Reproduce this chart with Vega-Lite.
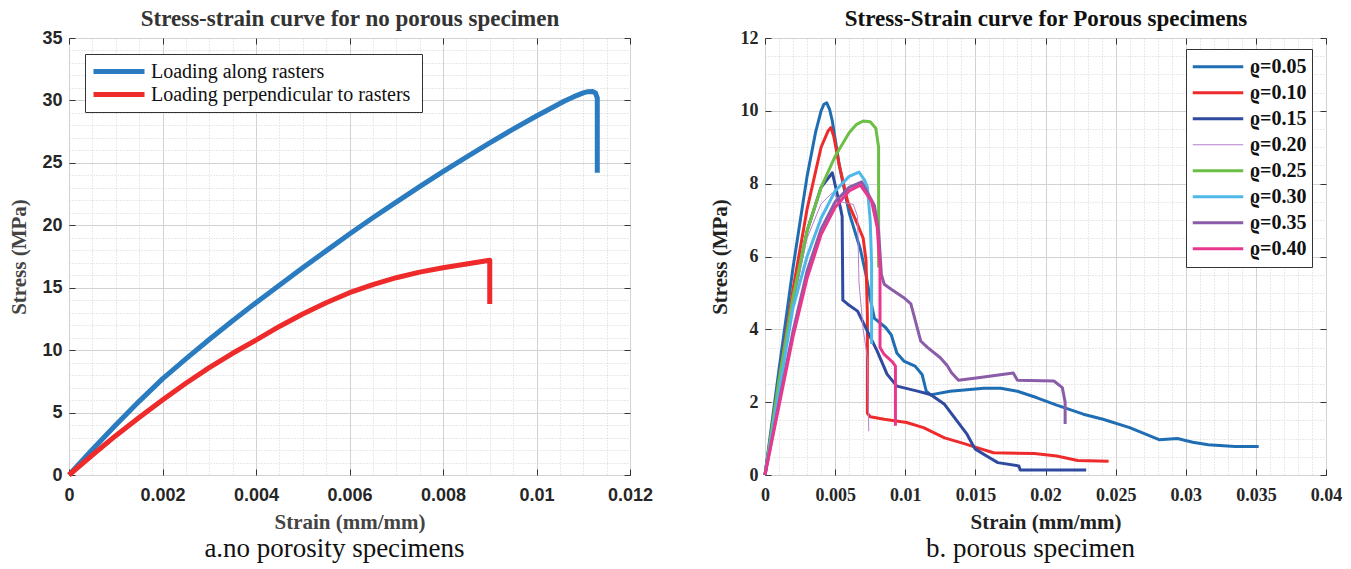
{
  "$schema": "https://vega.github.io/schema/vega-lite/v6.json",
  "padding": {"left": 8, "top": 7, "right": 0, "bottom": 0},
  "background": "white",
  "bounds": "flush",
  "spacing": 135,
  "resolve": {"scale": {"color": "independent", "strokeWidth": "independent"}, "legend": {"color": "independent", "strokeWidth": "independent"}},
  "config": {
    "view": {"stroke": "#333333", "strokeWidth": 1},
    "axis": {"labelFlush": false, "labelOverlap": false, "labelBound": false, "domain": false}
  },
  "datasets": {
    "left": [
      {"s": "Loading along rasters", "i": 1, "x": 0, "y": 0},
      {"s": "Loading along rasters", "i": 2, "x": 0.0005, "y": 2.05},
      {"s": "Loading along rasters", "i": 3, "x": 0.001, "y": 4.0},
      {"s": "Loading along rasters", "i": 4, "x": 0.0015, "y": 5.9},
      {"s": "Loading along rasters", "i": 5, "x": 0.002, "y": 7.7},
      {"s": "Loading along rasters", "i": 6, "x": 0.0025, "y": 9.3},
      {"s": "Loading along rasters", "i": 7, "x": 0.003, "y": 10.85},
      {"s": "Loading along rasters", "i": 8, "x": 0.0035, "y": 12.35},
      {"s": "Loading along rasters", "i": 9, "x": 0.004, "y": 13.8},
      {"s": "Loading along rasters", "i": 10, "x": 0.0045, "y": 15.2},
      {"s": "Loading along rasters", "i": 11, "x": 0.005, "y": 16.6},
      {"s": "Loading along rasters", "i": 12, "x": 0.0055, "y": 17.95},
      {"s": "Loading along rasters", "i": 13, "x": 0.006, "y": 19.3},
      {"s": "Loading along rasters", "i": 14, "x": 0.0065, "y": 20.6},
      {"s": "Loading along rasters", "i": 15, "x": 0.007, "y": 21.85},
      {"s": "Loading along rasters", "i": 16, "x": 0.0075, "y": 23.1},
      {"s": "Loading along rasters", "i": 17, "x": 0.008, "y": 24.3},
      {"s": "Loading along rasters", "i": 18, "x": 0.0085, "y": 25.45},
      {"s": "Loading along rasters", "i": 19, "x": 0.009, "y": 26.6},
      {"s": "Loading along rasters", "i": 20, "x": 0.0095, "y": 27.7},
      {"s": "Loading along rasters", "i": 21, "x": 0.01, "y": 28.75},
      {"s": "Loading along rasters", "i": 22, "x": 0.0103, "y": 29.35},
      {"s": "Loading along rasters", "i": 23, "x": 0.0106, "y": 29.95},
      {"s": "Loading along rasters", "i": 24, "x": 0.0108, "y": 30.3},
      {"s": "Loading along rasters", "i": 25, "x": 0.011, "y": 30.6},
      {"s": "Loading along rasters", "i": 26, "x": 0.0111, "y": 30.7},
      {"s": "Loading along rasters", "i": 27, "x": 0.0112, "y": 30.72},
      {"s": "Loading along rasters", "i": 28, "x": 0.01126, "y": 30.6},
      {"s": "Loading along rasters", "i": 29, "x": 0.0113, "y": 30.2},
      {"s": "Loading along rasters", "i": 30, "x": 0.0113, "y": 24.2},
      {"s": "Loading perpendicular to  rasters", "i": 1, "x": 0, "y": 0},
      {"s": "Loading perpendicular to  rasters", "i": 2, "x": 0.0005, "y": 1.6},
      {"s": "Loading perpendicular to  rasters", "i": 3, "x": 0.001, "y": 3.15},
      {"s": "Loading perpendicular to  rasters", "i": 4, "x": 0.0015, "y": 4.6},
      {"s": "Loading perpendicular to  rasters", "i": 5, "x": 0.002, "y": 6.0},
      {"s": "Loading perpendicular to  rasters", "i": 6, "x": 0.0025, "y": 7.35},
      {"s": "Loading perpendicular to  rasters", "i": 7, "x": 0.003, "y": 8.6},
      {"s": "Loading perpendicular to  rasters", "i": 8, "x": 0.0035, "y": 9.75},
      {"s": "Loading perpendicular to  rasters", "i": 9, "x": 0.004, "y": 10.8},
      {"s": "Loading perpendicular to  rasters", "i": 10, "x": 0.0045, "y": 11.9},
      {"s": "Loading perpendicular to  rasters", "i": 11, "x": 0.005, "y": 12.9},
      {"s": "Loading perpendicular to  rasters", "i": 12, "x": 0.0055, "y": 13.8},
      {"s": "Loading perpendicular to  rasters", "i": 13, "x": 0.006, "y": 14.6},
      {"s": "Loading perpendicular to  rasters", "i": 14, "x": 0.0065, "y": 15.25},
      {"s": "Loading perpendicular to  rasters", "i": 15, "x": 0.007, "y": 15.8},
      {"s": "Loading perpendicular to  rasters", "i": 16, "x": 0.0075, "y": 16.25},
      {"s": "Loading perpendicular to  rasters", "i": 17, "x": 0.008, "y": 16.6},
      {"s": "Loading perpendicular to  rasters", "i": 18, "x": 0.0085, "y": 16.9},
      {"s": "Loading perpendicular to  rasters", "i": 19, "x": 0.009, "y": 17.2},
      {"s": "Loading perpendicular to  rasters", "i": 20, "x": 0.009, "y": 13.7}
    ],
    "right": [
      {"r": "ϱ=0.05", "i": 1, "x": 0, "y": 0},
      {"r": "ϱ=0.05", "i": 2, "x": 0.001, "y": 2.9},
      {"r": "ϱ=0.05", "i": 3, "x": 0.002, "y": 5.7},
      {"r": "ϱ=0.05", "i": 4, "x": 0.003, "y": 8.2},
      {"r": "ϱ=0.05", "i": 5, "x": 0.0036, "y": 9.4},
      {"r": "ϱ=0.05", "i": 6, "x": 0.004, "y": 10.0},
      {"r": "ϱ=0.05", "i": 7, "x": 0.0042, "y": 10.18},
      {"r": "ϱ=0.05", "i": 8, "x": 0.0044, "y": 10.22},
      {"r": "ϱ=0.05", "i": 9, "x": 0.0046, "y": 10.05},
      {"r": "ϱ=0.05", "i": 10, "x": 0.0048, "y": 9.72},
      {"r": "ϱ=0.05", "i": 11, "x": 0.0053, "y": 8.5},
      {"r": "ϱ=0.05", "i": 12, "x": 0.006, "y": 7.2},
      {"r": "ϱ=0.05", "i": 13, "x": 0.0068, "y": 6.2},
      {"r": "ϱ=0.05", "i": 14, "x": 0.0072, "y": 5.5},
      {"r": "ϱ=0.05", "i": 15, "x": 0.0075, "y": 4.85},
      {"r": "ϱ=0.05", "i": 16, "x": 0.0078, "y": 4.3},
      {"r": "ϱ=0.05", "i": 17, "x": 0.0082, "y": 4.18},
      {"r": "ϱ=0.05", "i": 18, "x": 0.0086, "y": 4.05},
      {"r": "ϱ=0.05", "i": 19, "x": 0.009, "y": 3.85},
      {"r": "ϱ=0.05", "i": 20, "x": 0.0094, "y": 3.35},
      {"r": "ϱ=0.05", "i": 21, "x": 0.0099, "y": 3.13},
      {"r": "ϱ=0.05", "i": 22, "x": 0.0107, "y": 2.99},
      {"r": "ϱ=0.05", "i": 23, "x": 0.0112, "y": 2.76},
      {"r": "ϱ=0.05", "i": 24, "x": 0.0115, "y": 2.3},
      {"r": "ϱ=0.05", "i": 25, "x": 0.0118, "y": 2.2},
      {"r": "ϱ=0.05", "i": 26, "x": 0.0132, "y": 2.3},
      {"r": "ϱ=0.05", "i": 27, "x": 0.0156, "y": 2.38},
      {"r": "ϱ=0.05", "i": 28, "x": 0.0168, "y": 2.38},
      {"r": "ϱ=0.05", "i": 29, "x": 0.018, "y": 2.3},
      {"r": "ϱ=0.05", "i": 30, "x": 0.0194, "y": 2.12},
      {"r": "ϱ=0.05", "i": 31, "x": 0.0208, "y": 1.92},
      {"r": "ϱ=0.05", "i": 32, "x": 0.0227, "y": 1.67},
      {"r": "ϱ=0.05", "i": 33, "x": 0.0241, "y": 1.53},
      {"r": "ϱ=0.05", "i": 34, "x": 0.026, "y": 1.3},
      {"r": "ϱ=0.05", "i": 35, "x": 0.0267, "y": 1.19},
      {"r": "ϱ=0.05", "i": 36, "x": 0.0281, "y": 0.97},
      {"r": "ϱ=0.05", "i": 37, "x": 0.0294, "y": 1.0},
      {"r": "ϱ=0.05", "i": 38, "x": 0.0305, "y": 0.9},
      {"r": "ϱ=0.05", "i": 39, "x": 0.0316, "y": 0.83},
      {"r": "ϱ=0.05", "i": 40, "x": 0.0335, "y": 0.78},
      {"r": "ϱ=0.05", "i": 41, "x": 0.0352, "y": 0.78},
      {"r": "ϱ=0.10", "i": 1, "x": 0, "y": 0},
      {"r": "ϱ=0.10", "i": 2, "x": 0.001, "y": 2.6},
      {"r": "ϱ=0.10", "i": 3, "x": 0.002, "y": 5.1},
      {"r": "ϱ=0.10", "i": 4, "x": 0.003, "y": 7.3},
      {"r": "ϱ=0.10", "i": 5, "x": 0.004, "y": 9.0},
      {"r": "ϱ=0.10", "i": 6, "x": 0.0045, "y": 9.45},
      {"r": "ϱ=0.10", "i": 7, "x": 0.0047, "y": 9.54},
      {"r": "ϱ=0.10", "i": 8, "x": 0.0049, "y": 9.3},
      {"r": "ϱ=0.10", "i": 9, "x": 0.0053, "y": 8.5},
      {"r": "ϱ=0.10", "i": 10, "x": 0.0059, "y": 7.5},
      {"r": "ϱ=0.10", "i": 11, "x": 0.0066, "y": 6.88},
      {"r": "ϱ=0.10", "i": 12, "x": 0.007, "y": 6.5},
      {"r": "ϱ=0.10", "i": 13, "x": 0.0072, "y": 5.9},
      {"r": "ϱ=0.10", "i": 14, "x": 0.0073, "y": 4.4},
      {"r": "ϱ=0.10", "i": 15, "x": 0.0073, "y": 1.7},
      {"r": "ϱ=0.10", "i": 16, "x": 0.0075, "y": 1.6},
      {"r": "ϱ=0.10", "i": 17, "x": 0.0085, "y": 1.53},
      {"r": "ϱ=0.10", "i": 18, "x": 0.0101, "y": 1.44},
      {"r": "ϱ=0.10", "i": 19, "x": 0.0113, "y": 1.3},
      {"r": "ϱ=0.10", "i": 20, "x": 0.0128, "y": 1.02},
      {"r": "ϱ=0.10", "i": 21, "x": 0.0142, "y": 0.86},
      {"r": "ϱ=0.10", "i": 22, "x": 0.0151, "y": 0.75},
      {"r": "ϱ=0.10", "i": 23, "x": 0.0163, "y": 0.61},
      {"r": "ϱ=0.10", "i": 24, "x": 0.0192, "y": 0.59},
      {"r": "ϱ=0.10", "i": 25, "x": 0.0208, "y": 0.52},
      {"r": "ϱ=0.10", "i": 26, "x": 0.0223, "y": 0.4},
      {"r": "ϱ=0.10", "i": 27, "x": 0.0245, "y": 0.38},
      {"r": "ϱ=0.15", "i": 1, "x": 0, "y": 0},
      {"r": "ϱ=0.15", "i": 2, "x": 0.001, "y": 2.5},
      {"r": "ϱ=0.15", "i": 3, "x": 0.002, "y": 4.8},
      {"r": "ϱ=0.15", "i": 4, "x": 0.003, "y": 6.7},
      {"r": "ϱ=0.15", "i": 5, "x": 0.004, "y": 7.9},
      {"r": "ϱ=0.15", "i": 6, "x": 0.0048, "y": 8.3},
      {"r": "ϱ=0.15", "i": 7, "x": 0.0054, "y": 7.3},
      {"r": "ϱ=0.15", "i": 8, "x": 0.0055, "y": 7.1},
      {"r": "ϱ=0.15", "i": 9, "x": 0.00555, "y": 4.8},
      {"r": "ϱ=0.15", "i": 10, "x": 0.0059, "y": 4.69},
      {"r": "ϱ=0.15", "i": 11, "x": 0.0066, "y": 4.5},
      {"r": "ϱ=0.15", "i": 12, "x": 0.0073, "y": 3.95},
      {"r": "ϱ=0.15", "i": 13, "x": 0.008, "y": 3.4},
      {"r": "ϱ=0.15", "i": 14, "x": 0.0087, "y": 2.77},
      {"r": "ϱ=0.15", "i": 15, "x": 0.0094, "y": 2.44},
      {"r": "ϱ=0.15", "i": 16, "x": 0.0108, "y": 2.31},
      {"r": "ϱ=0.15", "i": 17, "x": 0.0118, "y": 2.21},
      {"r": "ϱ=0.15", "i": 18, "x": 0.0128, "y": 1.94},
      {"r": "ϱ=0.15", "i": 19, "x": 0.0137, "y": 1.48},
      {"r": "ϱ=0.15", "i": 20, "x": 0.0144, "y": 1.12},
      {"r": "ϱ=0.15", "i": 21, "x": 0.0148, "y": 0.84},
      {"r": "ϱ=0.15", "i": 22, "x": 0.015, "y": 0.71},
      {"r": "ϱ=0.15", "i": 23, "x": 0.0158, "y": 0.52},
      {"r": "ϱ=0.15", "i": 24, "x": 0.0166, "y": 0.34},
      {"r": "ϱ=0.15", "i": 25, "x": 0.0181, "y": 0.25},
      {"r": "ϱ=0.15", "i": 26, "x": 0.0182, "y": 0.14},
      {"r": "ϱ=0.15", "i": 27, "x": 0.0229, "y": 0.14},
      {"r": "ϱ=0.20", "i": 1, "x": 0, "y": 0},
      {"r": "ϱ=0.20", "i": 2, "x": 0.001, "y": 2.45},
      {"r": "ϱ=0.20", "i": 3, "x": 0.002, "y": 4.7},
      {"r": "ϱ=0.20", "i": 4, "x": 0.003, "y": 6.5},
      {"r": "ϱ=0.20", "i": 5, "x": 0.004, "y": 7.45},
      {"r": "ϱ=0.20", "i": 6, "x": 0.0048, "y": 7.75},
      {"r": "ϱ=0.20", "i": 7, "x": 0.0054, "y": 7.5},
      {"r": "ϱ=0.20", "i": 8, "x": 0.0063, "y": 7.43},
      {"r": "ϱ=0.20", "i": 9, "x": 0.0066, "y": 7.1},
      {"r": "ϱ=0.20", "i": 10, "x": 0.0067, "y": 5.3},
      {"r": "ϱ=0.20", "i": 11, "x": 0.007, "y": 4.0},
      {"r": "ϱ=0.20", "i": 12, "x": 0.0073, "y": 3.2},
      {"r": "ϱ=0.20", "i": 13, "x": 0.0074, "y": 1.2},
      {"r": "ϱ=0.25", "i": 1, "x": 0, "y": 0},
      {"r": "ϱ=0.25", "i": 2, "x": 0.001, "y": 2.6},
      {"r": "ϱ=0.25", "i": 3, "x": 0.002, "y": 4.9},
      {"r": "ϱ=0.25", "i": 4, "x": 0.003, "y": 6.7},
      {"r": "ϱ=0.25", "i": 5, "x": 0.004, "y": 7.9},
      {"r": "ϱ=0.25", "i": 6, "x": 0.005, "y": 8.75},
      {"r": "ϱ=0.25", "i": 7, "x": 0.006, "y": 9.4},
      {"r": "ϱ=0.25", "i": 8, "x": 0.0065, "y": 9.62},
      {"r": "ϱ=0.25", "i": 9, "x": 0.007, "y": 9.72},
      {"r": "ϱ=0.25", "i": 10, "x": 0.0075, "y": 9.7},
      {"r": "ϱ=0.25", "i": 11, "x": 0.0079, "y": 9.52},
      {"r": "ϱ=0.25", "i": 12, "x": 0.0081, "y": 9.0},
      {"r": "ϱ=0.25", "i": 13, "x": 0.0081, "y": 5.7},
      {"r": "ϱ=0.30", "i": 1, "x": 0, "y": 0},
      {"r": "ϱ=0.30", "i": 2, "x": 0.001, "y": 2.3},
      {"r": "ϱ=0.30", "i": 3, "x": 0.002, "y": 4.6},
      {"r": "ϱ=0.30", "i": 4, "x": 0.003, "y": 6.0},
      {"r": "ϱ=0.30", "i": 5, "x": 0.004, "y": 7.05},
      {"r": "ϱ=0.30", "i": 6, "x": 0.005, "y": 7.8},
      {"r": "ϱ=0.30", "i": 7, "x": 0.006, "y": 8.2},
      {"r": "ϱ=0.30", "i": 8, "x": 0.0067, "y": 8.32},
      {"r": "ϱ=0.30", "i": 9, "x": 0.0071, "y": 8.1},
      {"r": "ϱ=0.30", "i": 10, "x": 0.0073, "y": 7.9},
      {"r": "ϱ=0.30", "i": 11, "x": 0.0075, "y": 7.0},
      {"r": "ϱ=0.30", "i": 12, "x": 0.0076, "y": 5.8},
      {"r": "ϱ=0.30", "i": 13, "x": 0.0076, "y": 3.6},
      {"r": "ϱ=0.35", "i": 1, "x": 0, "y": 0},
      {"r": "ϱ=0.35", "i": 2, "x": 0.001, "y": 2.0},
      {"r": "ϱ=0.35", "i": 3, "x": 0.002, "y": 3.95},
      {"r": "ϱ=0.35", "i": 4, "x": 0.003, "y": 5.6},
      {"r": "ϱ=0.35", "i": 5, "x": 0.004, "y": 6.75},
      {"r": "ϱ=0.35", "i": 6, "x": 0.005, "y": 7.5},
      {"r": "ϱ=0.35", "i": 7, "x": 0.006, "y": 7.9},
      {"r": "ϱ=0.35", "i": 8, "x": 0.0069, "y": 8.05},
      {"r": "ϱ=0.35", "i": 9, "x": 0.0078, "y": 7.4},
      {"r": "ϱ=0.35", "i": 10, "x": 0.0081, "y": 6.7},
      {"r": "ϱ=0.35", "i": 11, "x": 0.0083, "y": 5.5},
      {"r": "ϱ=0.35", "i": 12, "x": 0.0085, "y": 5.24},
      {"r": "ϱ=0.35", "i": 13, "x": 0.009, "y": 5.1},
      {"r": "ϱ=0.35", "i": 14, "x": 0.0099, "y": 4.87},
      {"r": "ϱ=0.35", "i": 15, "x": 0.0104, "y": 4.7},
      {"r": "ϱ=0.35", "i": 16, "x": 0.0106, "y": 4.41},
      {"r": "ϱ=0.35", "i": 17, "x": 0.0111, "y": 3.68},
      {"r": "ϱ=0.35", "i": 18, "x": 0.0116, "y": 3.5},
      {"r": "ϱ=0.35", "i": 19, "x": 0.0125, "y": 3.22},
      {"r": "ϱ=0.35", "i": 20, "x": 0.013, "y": 3.0},
      {"r": "ϱ=0.35", "i": 21, "x": 0.0133, "y": 2.81},
      {"r": "ϱ=0.35", "i": 22, "x": 0.0138, "y": 2.6},
      {"r": "ϱ=0.35", "i": 23, "x": 0.0156, "y": 2.69},
      {"r": "ϱ=0.35", "i": 24, "x": 0.0177, "y": 2.8},
      {"r": "ϱ=0.35", "i": 25, "x": 0.018, "y": 2.6},
      {"r": "ϱ=0.35", "i": 26, "x": 0.0206, "y": 2.58},
      {"r": "ϱ=0.35", "i": 27, "x": 0.0212, "y": 2.4},
      {"r": "ϱ=0.35", "i": 28, "x": 0.0214, "y": 2.0},
      {"r": "ϱ=0.35", "i": 29, "x": 0.0214, "y": 1.4},
      {"r": "ϱ=0.40", "i": 1, "x": 0, "y": 0},
      {"r": "ϱ=0.40", "i": 2, "x": 0.001, "y": 1.9},
      {"r": "ϱ=0.40", "i": 3, "x": 0.002, "y": 3.8},
      {"r": "ϱ=0.40", "i": 4, "x": 0.003, "y": 5.4},
      {"r": "ϱ=0.40", "i": 5, "x": 0.004, "y": 6.6},
      {"r": "ϱ=0.40", "i": 6, "x": 0.005, "y": 7.35},
      {"r": "ϱ=0.40", "i": 7, "x": 0.006, "y": 7.8},
      {"r": "ϱ=0.40", "i": 8, "x": 0.0068, "y": 7.96},
      {"r": "ϱ=0.40", "i": 9, "x": 0.0076, "y": 7.52},
      {"r": "ϱ=0.40", "i": 10, "x": 0.008, "y": 6.8},
      {"r": "ϱ=0.40", "i": 11, "x": 0.0082, "y": 5.7},
      {"r": "ϱ=0.40", "i": 12, "x": 0.0082, "y": 3.5},
      {"r": "ϱ=0.40", "i": 13, "x": 0.0085, "y": 3.31},
      {"r": "ϱ=0.40", "i": 14, "x": 0.0091, "y": 3.1},
      {"r": "ϱ=0.40", "i": 15, "x": 0.0093, "y": 2.99},
      {"r": "ϱ=0.40", "i": 16, "x": 0.0093, "y": 1.35}
    ]
  },
  "hconcat": [
    {
      "width": 561,
      "height": 437,
      "data": {"name": "left"},
      "title": {"text": "a.no porosity specimens", "orient": "bottom", "font": "Liberation Serif", "fontSize": 27, "fontWeight": "normal", "color": "#111111", "offset": 4, "dx": -15},
      "layer": [
        {
          "mark": {"type": "line", "strokeWidth": 5, "strokeJoin": "round"},
          "encoding": {
            "x": {"field": "x", "type": "quantitative",
              "scale": {"domain": [0, 0.012], "nice": false, "zero": false},
              "axis": {"orient": "bottom", "values": [0,0.0005,0.001,0.0015,0.002,0.0025,0.003,0.0035,0.004,0.0045,0.005,0.0055,0.006,0.0065,0.007,0.0075,0.008,0.0085,0.009,0.0095,0.01,0.0105,0.011,0.0115,0.012],
                "format": "~g",
                "labelExpr": "abs(datum.value*500-round(datum.value*500))>0.01 ? '' : datum.label",
                "labelFont": "Liberation Sans", "labelFontWeight": "bold", "labelFontSize": 18, "labelColor": "#262626",
                "labelPadding": 17, "tickSize": -6, "tickColor": "#333333",
                "tickOpacity": {"condition": {"test": "abs(datum.value*500-round(datum.value*500))>0.01", "value": 0}, "value": 1},
                "grid": true, "gridColor": "#d2d2d2",
                "gridDash": {"condition": {"test": "abs(datum.value*500-round(datum.value*500))>0.01", "value": [1, 2]}, "value": []},
                "title": "Strain (mm/mm)", "titleFont": "Liberation Serif", "titleFontSize": 21, "titleFontWeight": "bold", "titleColor": "#444444", "titlePadding": 7}},
            "y": {"field": "y", "type": "quantitative",
              "scale": {"domain": [0, 35], "nice": false, "zero": false},
              "axis": {"orient": "left", "values": [0,1,2,3,4,5,6,7,8,9,10,11,12,13,14,15,16,17,18,19,20,21,22,23,24,25,26,27,28,29,30,31,32,33,34,35],
                "format": "~g",
                "labelExpr": "datum.value % 5 !== 0 ? '' : datum.label",
                "labelFont": "Liberation Sans", "labelFontWeight": "bold", "labelFontSize": 18, "labelColor": "#262626",
                "labelPadding": 13, "tickSize": -6, "tickColor": "#333333",
                "tickOpacity": {"condition": {"test": "datum.value % 5 !== 0", "value": 0}, "value": 1},
                "grid": true, "gridColor": "#d2d2d2",
                "gridDash": {"condition": {"test": "datum.value % 5 !== 0", "value": [1, 2]}, "value": []},
                "title": "Stress (MPa)", "titleFont": "Liberation Serif", "titleFontSize": 21, "titleFontWeight": "bold", "titleColor": "#444444", "titlePadding": 12}},
            "color": {"field": "s", "type": "nominal",
              "scale": {"domain": ["Loading along rasters", "Loading perpendicular to  rasters"], "range": ["#2a7bbf", "#ee2a2a"]},
              "legend": {"title": null, "orient": "none", "legendX": 16, "legendY": 16, "symbolType": "stroke", "symbolSize": 2600, "symbolStrokeWidth": 5,
                "labelFont": "Liberation Serif", "labelFontSize": 20, "labelColor": "#111111", "labelLimit": 400, "labelOffset": 4,
                "fillColor": "white", "strokeColor": "#333333", "padding": 6, "rowPadding": 0, "clipHeight": 23}},
            "order": {"field": "i", "type": "quantitative"}
          }
        },
        {
          "mark": {"type": "point", "opacity": 0},
          "encoding": {
            "x": {"field": "x", "type": "quantitative",
              "axis": {"orient": "top", "values": [0,0.002,0.004,0.006,0.008,0.01,0.012], "labels": false, "grid": false,
                "tickSize": -6, "tickColor": "#333333",
                "title": "Stress-strain curve for no porous specimen", "titleFont": "Liberation Serif", "titleFontSize": 23, "titleFontWeight": "bold", "titleColor": "#333333", "titlePadding": 7}},
            "y": {"field": "y", "type": "quantitative",
              "axis": {"orient": "right", "values": [0,5,10,15,20,25,30,35], "labels": false, "grid": false, "tickSize": -6, "tickColor": "#333333", "title": null}}
          }
        }
      ],
      "resolve": {"axis": {"x": "independent", "y": "independent"}}
    },
    {
      "width": 561,
      "height": 437,
      "data": {"name": "right"},
      "title": {"text": "b. porous specimen", "orient": "bottom", "font": "Liberation Serif", "fontSize": 27, "fontWeight": "normal", "color": "#111111", "offset": 4, "dx": -15},
      "layer": [
        {
          "mark": {"type": "line", "strokeJoin": "round"},
          "encoding": {
            "x": {"field": "x", "type": "quantitative",
              "scale": {"domain": [0, 0.04], "nice": false, "zero": false},
              "axis": {"orient": "bottom", "values": [0,0.001,0.002,0.003,0.004,0.005,0.006,0.007,0.008,0.009,0.01,0.011,0.012,0.013,0.014,0.015,0.016,0.017,0.018,0.019,0.02,0.021,0.022,0.023,0.024,0.025,0.026,0.027,0.028,0.029,0.03,0.031,0.032,0.033,0.034,0.035,0.036,0.037,0.038,0.039,0.04],
                "format": "~g",
                "labelExpr": "abs(datum.value*200-round(datum.value*200))>0.01 ? '' : datum.label",
                "labelFont": "Liberation Serif", "labelFontWeight": "bold", "labelFontSize": 18, "labelColor": "#262626",
                "labelPadding": 17, "tickSize": -6, "tickColor": "#333333",
                "tickOpacity": {"condition": {"test": "abs(datum.value*200-round(datum.value*200))>0.01", "value": 0}, "value": 1},
                "grid": true, "gridColor": "#d2d2d2",
                "gridDash": {"condition": {"test": "abs(datum.value*200-round(datum.value*200))>0.01", "value": [1, 2]}, "value": []},
                "title": "Strain (mm/mm)", "titleFont": "Liberation Serif", "titleFontSize": 21, "titleFontWeight": "bold", "titleColor": "#222222", "titlePadding": 7}},
            "y": {"field": "y", "type": "quantitative",
              "scale": {"domain": [0, 12], "nice": false, "zero": false},
              "axis": {"orient": "left", "values": [0,0.5,1,1.5,2,2.5,3,3.5,4,4.5,5,5.5,6,6.5,7,7.5,8,8.5,9,9.5,10,10.5,11,11.5,12],
                "format": "~g",
                "labelExpr": "datum.value % 2 !== 0 ? '' : datum.label",
                "labelFont": "Liberation Serif", "labelFontWeight": "bold", "labelFontSize": 18, "labelColor": "#262626",
                "labelPadding": 13, "tickSize": -6, "tickColor": "#333333",
                "tickOpacity": {"condition": {"test": "datum.value % 2 !== 0", "value": 0}, "value": 1},
                "grid": true, "gridColor": "#d2d2d2",
                "gridDash": {"condition": {"test": "datum.value % 2 !== 0", "value": [1, 2]}, "value": []},
                "title": "Stress (MPa)", "titleFont": "Liberation Serif", "titleFontSize": 21, "titleFontWeight": "bold", "titleColor": "#222222", "titlePadding": 10}},
            "color": {"field": "r", "type": "nominal",
              "scale": {"domain": ["ϱ=0.05","ϱ=0.10","ϱ=0.15","ϱ=0.20","ϱ=0.25","ϱ=0.30","ϱ=0.35","ϱ=0.40"],
                "range": ["#1f6eb4","#ee2b2b","#2f4a9f","#b77fd0","#6cbf45","#4fb8e8","#8b5ca8","#e8388e"]},
              "legend": {"title": null, "orient": "none", "legendX": 421, "legendY": 11, "symbolType": "stroke", "symbolSize": 2550,
                "labelFont": "Liberation Serif", "labelFontWeight": "bold", "labelFontSize": 20, "labelColor": "#111111", "labelOffset": 5,
                "fillColor": "white", "strokeColor": "#333333", "padding": 5, "rowPadding": 0, "clipHeight": 25.5}},
            "strokeWidth": {"field": "r", "type": "nominal",
              "scale": {"type": "ordinal", "domain": ["ϱ=0.05","ϱ=0.10","ϱ=0.15","ϱ=0.20","ϱ=0.25","ϱ=0.30","ϱ=0.35","ϱ=0.40"],
                "range": [3,3,3,1,3,3,3,3]}},
            "order": {"field": "i", "type": "quantitative"}
          }
        },
        {
          "mark": {"type": "point", "opacity": 0},
          "encoding": {
            "x": {"field": "x", "type": "quantitative",
              "axis": {"orient": "top", "values": [0,0.005,0.01,0.015,0.02,0.025,0.03,0.035,0.04], "labels": false, "grid": false,
                "tickSize": -6, "tickColor": "#333333",
                "title": "Stress-Strain curve for Porous specimens", "titleFont": "Liberation Serif", "titleFontSize": 23, "titleFontWeight": "bold", "titleColor": "#111111", "titlePadding": 7}},
            "y": {"field": "y", "type": "quantitative",
              "axis": {"orient": "right", "values": [0,2,4,6,8,10,12], "labels": false, "grid": false, "tickSize": -6, "tickColor": "#333333", "title": null}}
          }
        }
      ],
      "resolve": {"axis": {"x": "independent", "y": "independent"}}
    }
  ]
}
